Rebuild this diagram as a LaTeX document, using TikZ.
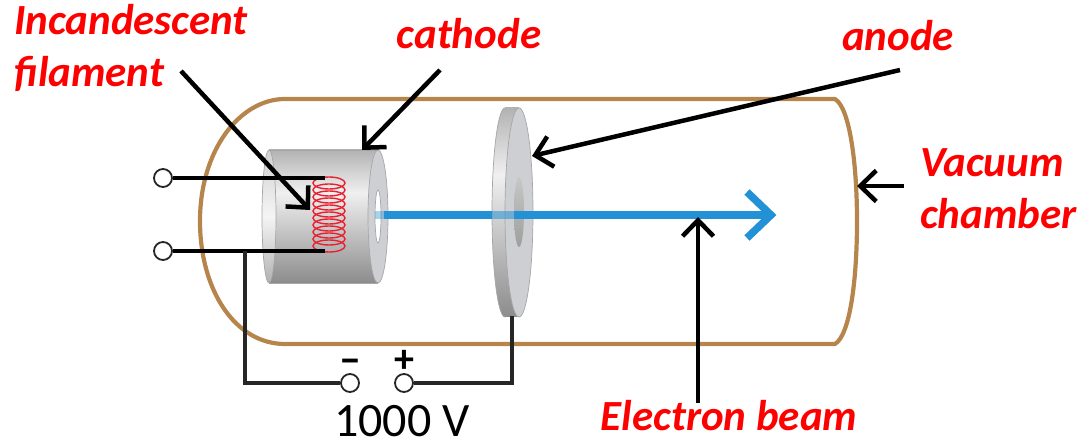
\documentclass[tikz,border=0pt]{standalone}
\usepackage{fontspec}
\setmainfont{Carlito}
\usetikzlibrary{arrows.meta}
\definecolor{tubebrown}{HTML}{B5854B}
\definecolor{beamblue}{HTML}{2291D5}
\definecolor{coilred}{HTML}{E8202F}
\definecolor{facegray}{HTML}{CDCFD2}
\pgfdeclareverticalshading{metalband}{100bp}{color(0bp)=(black!45); color(25bp)=(black!45); color(59bp)=(black!6); color(75bp)=(black!30); color(100bp)=(black!30)}
\tikzset{
  callout/.style={line width=4.5pt,-{Straight Barb[length=16pt,width=31pt,line width=4.5pt]}},
  wire/.style={line width=3.2pt,black!85},
  leadwire/.style={line width=4pt,black},
  terminal/.style={circle,draw=black!85,fill=white,line width=1.8pt,minimum size=18pt,inner sep=0pt},
  redlabel/.style={text=red,font=\fontsize{43}{52}\selectfont\bfseries\itshape,align=left},
  metal/.style={shading=metalband},
  edge/.style={draw=black!35,line width=0.7pt},
}
\begin{document}
\begin{tikzpicture}[x=1pt,y=-1pt,>=stealth]
\useasboundingbox (0,0) rectangle (1090,443);

% --- Tube ---
\draw[tubebrown,line width=4.2pt,line join=round]
  (285,99) -- (835,99)
  .. controls (850,108) and (857,165) .. (857,221)
  .. controls (857,280) and (850,335) .. (835,344)
  -- (285,344)
  .. controls (235,344) and (200,290) .. (200,221)
  .. controls (200,150) and (240,99) .. (285,99) -- cycle;

% --- Cathode ---
\path[metal] (269,150) rectangle (378,283);
\draw[edge] (269,150) -- (378,150) (269,283) -- (378,283);
\draw[edge,top color=black!18,bottom color=black!30,middle color=black!4] (269,216.5) ellipse[x radius=7,y radius=66.5];
\draw[edge,fill=facegray] (378,216.5) ellipse[x radius=10,y radius=66.5];
\draw[edge,fill=white] (378,216.5) ellipse[x radius=3,y radius=26.5];

% --- Anode ---
\draw[edge,metal] (505,212.5) ellipse[x radius=13,y radius=104.5];
\path[metal] (505,108) rectangle (519,317);
\draw[edge,fill=facegray] (519,212.5) ellipse[x radius=14,y radius=104.5];
\path[top color=black!22,bottom color=black!38] (519,212) ellipse[x radius=5,y radius=35];

% --- Beam ---
\coordinate (beamstart) at (384,215);
\coordinate (beamtip) at (771,215);
\draw[beamblue,line width=7.5pt,opacity=.4] (375,215) -- (beamstart);
\draw[beamblue,line width=7.5pt,opacity=.55] (492,215) -- (514,215);
\draw[beamblue,line width=7.5pt] (beamstart) -- (492,215) (514,215) -- (766,215);
\draw[beamblue,line width=7.5pt,line join=miter] (747,192) -- (beamtip) -- (747,238);

% --- Coil ---
\foreach \yy in {184,191,...,247} {
  \draw[coilred,line width=1.4pt] (329,\yy-1) ellipse[x radius=16,y radius=6];
}

% --- Terminals and wires ---
\node[terminal] (topterm) at (163,178) {};
\node[terminal] (lowterm) at (163,251) {};
\node[terminal] (negterm) at (350,383) {};
\node[terminal] (posterm) at (404,383) {};
\coordinate (coiltop) at (325,178);
\coordinate (coillow) at (325,251);
\coordinate (branch) at (245,251);
\coordinate (anodefoot) at (512,316);
\draw[leadwire] (topterm) -- (coiltop);
\draw[leadwire] (lowterm) -- (coillow);
\draw[wire] (branch) -- (branch |- negterm) -- (negterm);
\draw[wire] (posterm) -- (posterm -| anodefoot) -- (anodefoot);
\node[font=\fontsize{44}{44}\selectfont\bfseries,inner sep=0pt] (minus) at (350,366) {--};
\node[font=\fontsize{40}{40}\selectfont\bfseries,inner sep=0pt] (plus) at (404,361) {+};
\node[font=\fontsize{48}{48}\selectfont,inner sep=0pt] (volt) at (402,421) {1000 V};

% --- Labels ---
\node[redlabel,anchor=north west,inner sep=0pt] (filament) at (14,4) {Incandescent\\filament};
\node[redlabel] (cathode) at (469,34) {cathode};
\node[redlabel] (anode) at (898,36) {anode};
\node[redlabel,anchor=north west,inner sep=0pt] (vacuum) at (920,148) {Vacuum\\chamber};
\node[redlabel] (beamlabel) at (729,416) {Electron beam};

% --- Arrows ---
\coordinate (filfrom) at (181,71);
\coordinate (filto) at (310,210);
\coordinate (catfrom) at (440,70);
\coordinate (catto) at (362,150);
\coordinate (anofrom) at (900,70);
\coordinate (anoto) at (532,156);
\coordinate (vacfrom) at (904,186);
\coordinate (vacto) at (857,186);
\coordinate (beamfrom) at (698,403);
\coordinate (beamto) at (698,217);
\draw[callout] (filfrom) -- (filto);
\draw[callout] (catfrom) -- (catto);
\draw[callout] (anofrom) -- (anoto);
\draw[callout] (vacfrom) -- (vacto);
\draw[callout] (beamfrom) -- (beamto);

\end{tikzpicture}
\end{document}
